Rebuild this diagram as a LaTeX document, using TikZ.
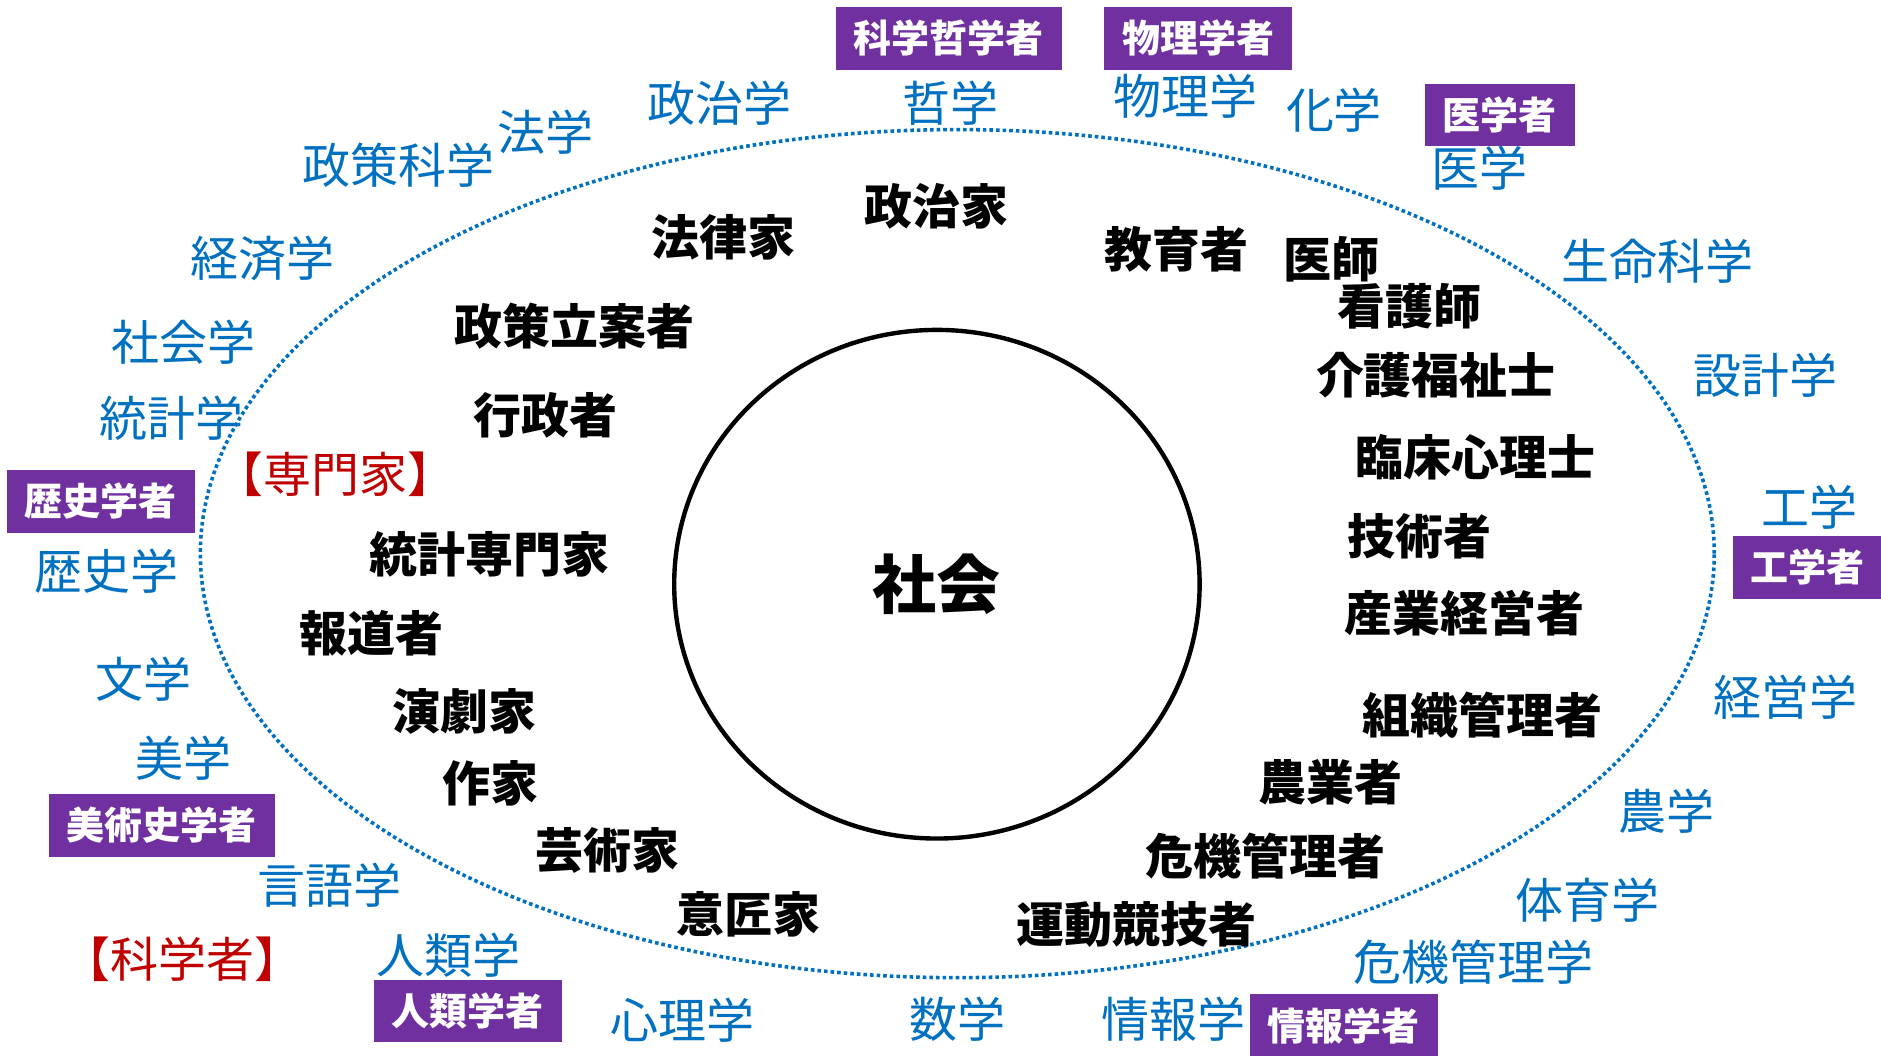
\documentclass[tikz,border=0pt]{standalone}
\usepackage{fontspec}
\setmainfont{Noto Sans CJK JP}
\usetikzlibrary{shapes.geometric}
\definecolor{fieldblue}{HTML}{0070C0}
\definecolor{scholarpurple}{HTML}{7030A0}
\definecolor{headred}{HTML}{C00000}
\begin{document}
\begin{tikzpicture}[x=0.6pt,y=-0.6pt,
  field/.style={text=fieldblue, font=\fontsize{24}{24}\selectfont, inner sep=0pt},
  role/.style={text=black, font=\fontsize{24}{24}\selectfont\bfseries, inner sep=0pt},
  scholar/.style={fill=scholarpurple, text=white, font=\fontsize{19}{19}\selectfont\bfseries, minimum height=31.2pt, inner xsep=9pt, inner ysep=0pt},
  heading/.style={text=headred, font=\fontsize{24}{24}\selectfont, inner sep=0pt},
  hub/.style={draw=black, line width=2.2pt, ellipse, minimum width=262.8pt, minimum height=254.4pt, font=\fontsize{32}{32}\selectfont\bfseries, inner sep=0pt}]
\useasboundingbox (0,0) rectangle (1568,880);
% dotted outer ellipse
\draw[fieldblue, line width=1.8pt, dash pattern=on 1.8pt off 1.5pt] (798,461.5) ellipse [x radius=378.6pt, y radius=212.1pt];
% centre
\node[hub] (society) at (781,487) {社会};
% roles (black)
\node[role] (r1) at (603,198) {法律家};
\node[role] (r2) at (781,172) {政治家};
\node[role] (r3) at (981,208) {教育者};
\node[role] (r4) at (1110,216) {医師};
\node[role] (r5) at (1175,255) {看護師};
\node[role] (r6) at (479,272) {政策立案者};
\node[role] (r7) at (1197,313) {介護福祉士};
\node[role] (r8) at (455,346) {行政者};
\node[role] (r9) at (1230,381) {臨床心理士};
\node[role] (r10) at (1183,447) {技術者};
\node[role] (r11) at (408,462) {統計専門家};
\node[role] (r12) at (1221,511) {産業経営者};
\node[role] (r13) at (310,528) {報道者};
\node[role] (r14) at (387,593) {演劇家};
\node[role] (r15) at (1236,596) {組織管理者};
\node[role] (r16) at (409,653) {作家};
\node[role] (r17) at (1109,652) {農業者};
\node[role] (r18) at (506,709) {芸術家};
\node[role] (r19) at (1055,714) {危機管理者};
\node[role] (r20) at (624,762) {意匠家};
\node[role] (r21) at (947,771) {運動競技者};
% headings (red)
\node[heading] (h1) at (280,395) {【専門家】};
\node[heading] (h2) at (152,800) {【科学者】};
% fields (blue)
\node[field] (f1) at (332,138) {政策科学};
\node[field] (f2) at (455,110) {法学};
\node[field] (f3) at (600,86) {政治学};
\node[field] (f4) at (792,86) {哲学};
\node[field] (f5) at (988,80) {物理学};
\node[field] (f6) at (1112,92) {化学};
\node[field] (f7) at (1233,140) {医学};
\node[field] (f8) at (1382,218) {生命科学};
\node[field] (f9) at (1472,313) {設計学};
\node[field] (f10) at (1508,423) {工学};
\node[field] (f11) at (1488,581) {経営学};
\node[field] (f12) at (1389,676) {農学};
\node[field] (f13) at (1323,750) {体育学};
\node[field] (f14) at (1228,802) {危機管理学};
\node[field] (f15) at (978,850) {情報学};
\node[field] (f16) at (798,850) {数学};
\node[field] (f17) at (569,850) {心理学};
\node[field] (f18) at (374,796) {人類学};
\node[field] (f19) at (275,738) {言語学};
\node[field] (f20) at (153,632) {美学};
\node[field] (f21) at (120,566) {文学};
\node[field] (f22) at (89,476) {歴史学};
\node[field] (f23) at (143,349) {統計学};
\node[field] (f24) at (153,285) {社会学};
\node[field] (f25) at (219,215) {経済学};
% scholars (purple boxes)
\node[scholar] (s1) at (791,32) {科学哲学者};
\node[scholar] (s2) at (999,32) {物理学者};
\node[scholar] (s3) at (1250,96) {医学者};
\node[scholar] (s4) at (84,418) {歴史学者};
\node[scholar] (s5) at (1507,473) {工学者};
\node[scholar] (s6) at (135,688) {美術史学者};
\node[scholar] (s7) at (390,843) {人類学者};
\node[scholar] (s8) at (1120,855) {情報学者};
\end{tikzpicture}
\end{document}
